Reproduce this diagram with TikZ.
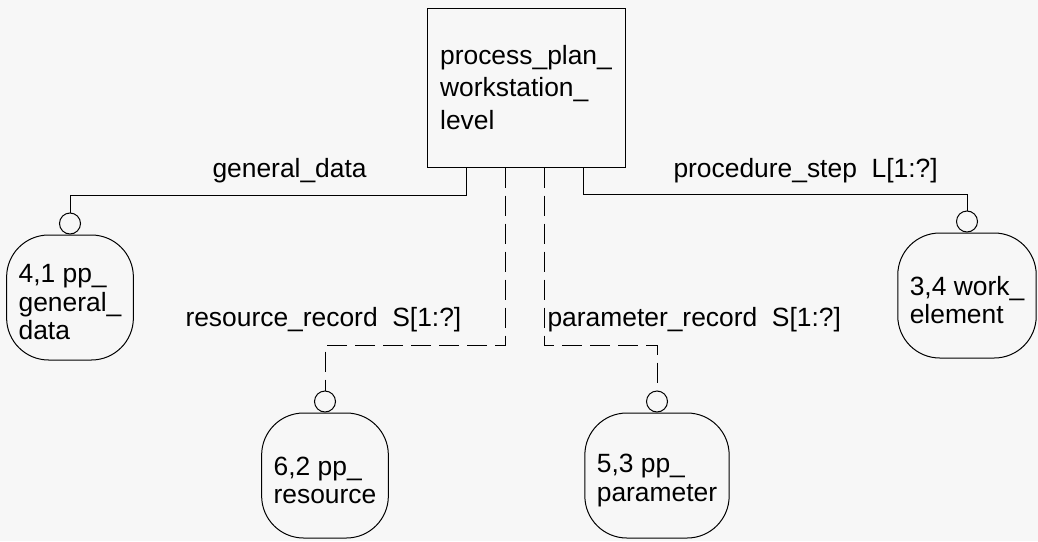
\documentclass[tikz,border=0pt]{standalone}
\usepackage{fontspec}
\setmainfont{Liberation Sans}
\begin{document}
\begin{tikzpicture}[x=1pt,y=-1pt,line width=1pt,
   every node/.style={font=\fontsize{26.4}{28.5}\selectfont},
   entity/.style={draw,rounded corners=42pt,minimum height=125pt,inner xsep=12pt,align=left},
   ring/.style={draw,circle,minimum size=21pt,inner sep=0pt,anchor=south},
   lbl/.style={anchor=base west,inner sep=0pt},
   opt/.style={dash pattern=on 20pt off 8pt}]
   \fill[black!3] (0,0) rectangle (1038,541);
   \useasboundingbox (0,0) rectangle (1038,541);

   \node (P) [draw,minimum width=198pt,minimum height=159pt,align=left,
      font=\fontsize{26.4}{32.5}\selectfont] at (526,87.5)
      {process\_plan\_\\workstation\_\\level};
   \node (G) [entity] at (70,297.5) {\rule{0pt}{28pt}4,1 pp\_\\general\_\\data};
   \node (R) [entity] at (325,475.5) {\rule{0pt}{28pt}6,2 pp\_\\resource};
   \node (M) [entity] at (657,475.5) {\rule{0pt}{28pt}5,3 pp\_\\parameter};
   \node (W) [entity] at (967,295.5) {\rule{0pt}{28pt}3,4 work\_\\element};

   \node (g) [ring] at (G.north) {};
   \node (r) [ring] at (R.north) {};
   \node (m) [ring] at (M.north) {};
   \node (w) [ring] at (W.north) {};

   \draw ([xshift=-60pt]P.south) -- ++(0,28) -| (g);
   \draw[opt] ([xshift=-21pt]P.south) -- ++(0,178) -| (r);
   \draw[opt] ([xshift=18pt]P.south) -- ++(0,178) -| (m);
   \draw ([xshift=57pt]P.south) -- ++(0,27) -| (w);

   \node (Lg) [lbl] at (212,177) {general\_data};
   \node (Lw) [lbl] at (673,177) {procedure\_step\ \ L[1:?]};
   \node (Lr) [lbl] at (185,326) {resource\_record\ \ S[1:?]};
   \node (Lm) [lbl] at (547,326) {parameter\_record\ \ S[1:?]};
\end{tikzpicture}
\end{document}
